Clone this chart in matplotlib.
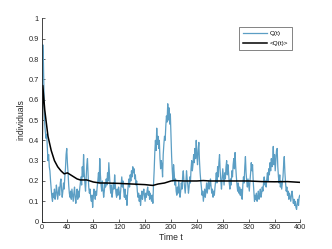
import numpy as np
import matplotlib
matplotlib.use('Agg')
import matplotlib.pyplot as plt

plt.rcParams['font.family'] = ['Liberation Sans', 'DejaVu Sans']

# Q(t), every time unit (t = 0..400)
t_q = np.arange(0, 401)
q = [0.00, 0.60, 0.87, 0.78, 0.60, 0.48, 0.44, 0.41, 0.43, 0.37, 0.30, 0.33, 0.27, 0.25, 0.20, 0.16, 0.12, 0.10, 0.14, 0.12,
     0.16, 0.11, 0.13, 0.18, 0.15, 0.11, 0.14, 0.17, 0.13, 0.19, 0.21, 0.16, 0.12, 0.15, 0.19, 0.16, 0.22, 0.26, 0.33, 0.36,
     0.29, 0.24, 0.18, 0.14, 0.12, 0.15, 0.11, 0.16, 0.13, 0.10, 0.14, 0.17, 0.12, 0.09, 0.13, 0.16, 0.11, 0.15, 0.12, 0.16,
     0.19, 0.22, 0.18, 0.27, 0.22, 0.33, 0.24, 0.19, 0.15, 0.21, 0.28, 0.31, 0.23, 0.17, 0.14, 0.16, 0.12, 0.10, 0.13, 0.07,
     0.12, 0.16, 0.14, 0.11, 0.15, 0.13, 0.17, 0.20, 0.24, 0.19, 0.31, 0.23, 0.18, 0.15, 0.20, 0.16, 0.12, 0.15, 0.19, 0.17,
     0.21, 0.18, 0.24, 0.20, 0.29, 0.23, 0.17, 0.14, 0.18, 0.12, 0.15, 0.19, 0.16, 0.23, 0.18, 0.14, 0.12, 0.16, 0.13, 0.17,
     0.15, 0.11, 0.14, 0.18, 0.22, 0.17, 0.20, 0.15, 0.12, 0.16, 0.11, 0.13, 0.08, 0.14, 0.18, 0.21, 0.17, 0.23, 0.20, 0.25,
     0.22, 0.27, 0.24, 0.26, 0.21, 0.23, 0.18, 0.20, 0.15, 0.12, 0.14, 0.10, 0.13, 0.08, 0.12, 0.15, 0.11, 0.14, 0.16, 0.13,
     0.10, 0.14, 0.12, 0.15, 0.17, 0.13, 0.15, 0.11, 0.14, 0.12, 0.10, 0.13, 0.09, 0.18, 0.25, 0.34, 0.40, 0.35, 0.46, 0.38,
     0.42, 0.36, 0.40, 0.31, 0.26, 0.30, 0.28, 0.22, 0.33, 0.38, 0.42, 0.40, 0.47, 0.52, 0.49, 0.58, 0.50, 0.56, 0.48, 0.53,
     0.42, 0.32, 0.25, 0.20, 0.28, 0.24, 0.18, 0.21, 0.15, 0.13, 0.17, 0.14, 0.20, 0.16, 0.12, 0.15, 0.19, 0.16, 0.22, 0.25,
     0.20, 0.17, 0.14, 0.19, 0.25, 0.21, 0.18, 0.14, 0.17, 0.22, 0.19, 0.26, 0.30, 0.25, 0.28, 0.33, 0.29, 0.36, 0.31, 0.40,
     0.33, 0.28, 0.35, 0.39, 0.30, 0.24, 0.20, 0.17, 0.13, 0.15, 0.10, 0.13, 0.16, 0.12, 0.15, 0.19, 0.14, 0.17, 0.20, 0.16,
     0.18, 0.21, 0.17, 0.14, 0.16, 0.12, 0.15, 0.13, 0.17, 0.20, 0.24, 0.19, 0.27, 0.22, 0.29, 0.33, 0.25, 0.20, 0.16, 0.21,
     0.26, 0.22, 0.18, 0.24, 0.21, 0.27, 0.30, 0.23, 0.28, 0.24, 0.19, 0.16, 0.21, 0.18, 0.25, 0.22, 0.28, 0.31, 0.26, 0.34,
     0.27, 0.22, 0.18, 0.15, 0.19, 0.14, 0.17, 0.13, 0.16, 0.12, 0.11, 0.18, 0.22, 0.19, 0.27, 0.32, 0.24, 0.20, 0.17, 0.21,
     0.18, 0.15, 0.20, 0.24, 0.29, 0.25, 0.28, 0.20, 0.15, 0.10, 0.13, 0.11, 0.14, 0.10, 0.12, 0.15, 0.11, 0.13, 0.16, 0.12,
     0.14, 0.17, 0.15, 0.19, 0.22, 0.18, 0.20, 0.17, 0.21, 0.24, 0.20, 0.26, 0.23, 0.29, 0.25, 0.31, 0.27, 0.30, 0.37, 0.28,
     0.33, 0.25, 0.30, 0.35, 0.36, 0.27, 0.22, 0.19, 0.23, 0.17, 0.20, 0.16, 0.19, 0.22, 0.28, 0.32, 0.24, 0.19, 0.15, 0.17,
     0.13, 0.15, 0.11, 0.14, 0.12, 0.10, 0.13, 0.15, 0.12, 0.09, 0.11, 0.08, 0.10, 0.07, 0.06, 0.09, 0.11, 0.08, 0.12, 0.13,
     0.12]

# <Q(t)>
t_m = [0, 2, 5, 10, 15, 20, 25, 30, 35, 40, 45, 50, 55, 60, 70, 75, 80,
       90, 100, 120, 140, 160, 172, 180, 190, 200, 205, 220, 240, 250,
       260, 300, 320, 340, 360, 380, 400]
q_m = [0.0, 0.67, 0.55, 0.42, 0.35, 0.30, 0.27, 0.25, 0.235, 0.24, 0.23,
       0.22, 0.21, 0.205, 0.205, 0.20, 0.195, 0.19, 0.19, 0.188, 0.185,
       0.182, 0.178, 0.185, 0.19, 0.20, 0.202, 0.20, 0.20, 0.202, 0.20,
       0.20, 0.20, 0.197, 0.196, 0.197, 0.193]

fig = plt.figure(figsize=(3.32, 2.49), dpi=100)
ax = fig.add_axes([0.125, 0.11, 0.78, 0.816])
ax.plot(t_q, q, color='#5b9ec4', lw=0.9, label='Q(t)')
ax.plot(t_m, q_m, color='black', lw=1.1, label='<Q(t)>')

ax.set_xlim(0, 400)
ax.set_ylim(0, 1)
ax.set_xticks(np.arange(0, 401, 40))
ax.set_yticks(np.arange(0, 1.01, 0.1))
ax.set_yticklabels(['0', '0.1', '0.2', '0.3', '0.4', '0.5', '0.6', '0.7', '0.8', '0.9', '1'])
ax.tick_params(direction='in', length=2, width=0.5, labelsize=5.3, colors='#262626', pad=2)
for s in ['top', 'right']:
    ax.spines[s].set_visible(False)
for s in ['left', 'bottom']:
    ax.spines[s].set_linewidth(0.6)
    ax.spines[s].set_color('#262626')
ax.set_xlabel('Time t', fontsize=6.2, color='#262626', labelpad=1)
ax.set_ylabel('individuals', fontsize=6.2, color='#262626', labelpad=2)
leg = ax.legend(loc='upper right', bbox_to_anchor=(0.979, 0.973), fontsize=4.6,
                frameon=True, fancybox=False, edgecolor='#262626',
                handlelength=3.7, handletextpad=0.4, borderpad=0.6, labelspacing=0.7)
leg.get_frame().set_linewidth(0.5)

fig.savefig('out.png', dpi=100)
